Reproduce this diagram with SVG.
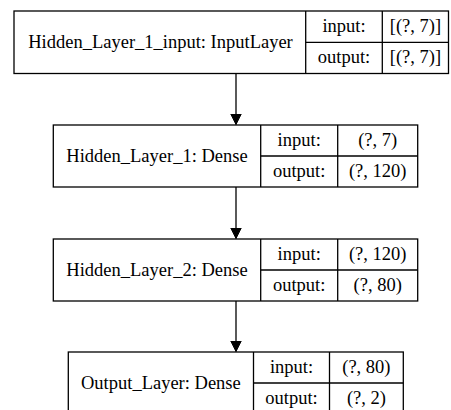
<svg xmlns="http://www.w3.org/2000/svg" width="451" height="410" viewBox="0 0 451 410">
  <style>
    .box { fill: #ffffff; stroke: #000000; stroke-width: 1.3; }
    .sep { stroke: #000000; stroke-width: 1.3; fill: none; }
    .edge { stroke: #000000; stroke-width: 1.3; fill: none; }
    .lbl { font-family: "Liberation Serif", "Times New Roman", serif; font-size: 18.5px; fill: #000000; text-anchor: middle; }
  </style>
  <defs>
    <marker id="arrow" markerUnits="userSpaceOnUse" markerWidth="12" markerHeight="16" refX="11" refY="5.5" orient="auto">
      <path d="M0,0 L11,5.5 L0,11 Z" fill="#000000" stroke="#000000" stroke-width="1"/>
    </marker>
  </defs>
  <rect width="451" height="410" fill="#ffffff"/>

  <!-- connectors between layers -->
  <g id="edges">
    <line class="edge" x1="236" y1="73.5" x2="236" y2="124.5" marker-end="url(#arrow)"/>
    <line class="edge" x1="236" y1="187" x2="236" y2="238.5" marker-end="url(#arrow)"/>
    <line class="edge" x1="236" y1="301" x2="236" y2="351.5" marker-end="url(#arrow)"/>
  </g>

  <g id="input_layer">
    <rect class="box" x="14" y="11" width="434.5" height="62.5"/>
    <line class="sep" x1="305.7" y1="11" x2="305.7" y2="73.5"/>
    <line class="sep" x1="382.3" y1="11" x2="382.3" y2="73.5"/>
    <line class="sep" x1="305.7" y1="42.3" x2="448.5" y2="42.3"/>
    <text class="lbl" x="160.5" y="48">Hidden_Layer_1_input: InputLayer</text>
    <text class="lbl" x="344" y="32">input:</text>
    <text class="lbl" x="344" y="63">output:</text>
    <text class="lbl" x="415.4" y="32">[(?, 7)]</text>
    <text class="lbl" x="415.4" y="63">[(?, 7)]</text>
  </g>

  <g id="hidden_layer_1">
    <rect class="box" x="53.3" y="125" width="364.4" height="62"/>
    <line class="sep" x1="260.7" y1="125" x2="260.7" y2="187"/>
    <line class="sep" x1="337.7" y1="125" x2="337.7" y2="187"/>
    <line class="sep" x1="260.7" y1="156" x2="417.7" y2="156"/>
    <text class="lbl" x="157" y="161.5">Hidden_Layer_1: Dense</text>
    <text class="lbl" x="299.2" y="146">input:</text>
    <text class="lbl" x="299.2" y="177">output:</text>
    <text class="lbl" x="377.7" y="146">(?, 7)</text>
    <text class="lbl" x="377.7" y="177">(?, 120)</text>
  </g>

  <g id="hidden_layer_2">
    <rect class="box" x="53.3" y="239" width="364.4" height="62"/>
    <line class="sep" x1="260.7" y1="239" x2="260.7" y2="301"/>
    <line class="sep" x1="337.7" y1="239" x2="337.7" y2="301"/>
    <line class="sep" x1="260.7" y1="270" x2="417.7" y2="270"/>
    <text class="lbl" x="157" y="275.5">Hidden_Layer_2: Dense</text>
    <text class="lbl" x="299.2" y="260">input:</text>
    <text class="lbl" x="299.2" y="291">output:</text>
    <text class="lbl" x="377.7" y="260">(?, 120)</text>
    <text class="lbl" x="377.7" y="291">(?, 80)</text>
  </g>

  <g id="output_layer">
    <rect class="box" x="68.3" y="352" width="335" height="62"/>
    <line class="sep" x1="253.5" y1="352" x2="253.5" y2="414"/>
    <line class="sep" x1="329.5" y1="352" x2="329.5" y2="414"/>
    <line class="sep" x1="253.5" y1="383" x2="403.3" y2="383"/>
    <text class="lbl" x="160.9" y="388.5">Output_Layer: Dense</text>
    <text class="lbl" x="291.5" y="373">input:</text>
    <text class="lbl" x="291.5" y="404">output:</text>
    <text class="lbl" x="366.4" y="373">(?, 80)</text>
    <text class="lbl" x="366.4" y="404">(?, 2)</text>
  </g>
</svg>
